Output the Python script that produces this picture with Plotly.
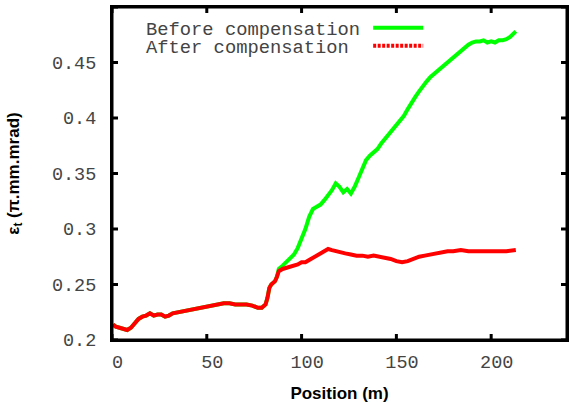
import plotly.graph_objects as go

# Position (m)
x_before = [0.5, 2, 4, 6, 8, 10, 12, 14, 16, 18, 20, 22, 24, 26, 28, 30, 32, 35, 38, 41, 44, 47, 50,
            53, 56, 59, 62, 65, 68, 71, 74, 77, 79, 81, 82, 83, 84, 85, 86, 87,
            88, 90, 92, 94, 96, 98, 100, 102, 104, 106, 108, 110, 112, 114, 116, 118, 120, 122, 124,
            126, 128, 130, 132, 134, 136, 138, 140, 142, 144, 146, 148, 150, 152, 154, 156, 158, 160,
            162, 164, 166, 168, 170, 172, 174, 176, 178, 180, 182, 184, 186, 188, 190, 192, 194, 196,
            198, 200, 202, 204, 206, 208, 210, 212, 213]
y_before = [0.214, 0.212, 0.211, 0.210, 0.209, 0.211, 0.215, 0.219, 0.221, 0.222, 0.224, 0.222, 0.223,
            0.223, 0.221, 0.222, 0.224, 0.225, 0.226, 0.227, 0.228, 0.229, 0.230,
            0.231, 0.232, 0.233, 0.233, 0.232, 0.232, 0.232, 0.231, 0.229, 0.229, 0.232, 0.238, 0.247,
            0.250, 0.251, 0.253, 0.257,
            0.264, 0.267, 0.270, 0.273, 0.277, 0.283, 0.291, 0.300, 0.311, 0.318, 0.320, 0.322, 0.326,
            0.330, 0.335, 0.341, 0.338, 0.333, 0.336, 0.332, 0.338, 0.346, 0.355, 0.362, 0.366, 0.369,
            0.372, 0.377, 0.381, 0.385, 0.389, 0.393, 0.397, 0.402, 0.408, 0.414, 0.419, 0.424, 0.429,
            0.433, 0.437, 0.440, 0.443, 0.446, 0.449, 0.452, 0.455, 0.458, 0.461, 0.464, 0.466, 0.468,
            0.469, 0.469, 0.470, 0.468, 0.469, 0.468, 0.470, 0.470, 0.471, 0.473, 0.476, 0.478]

x_after = [0.5, 2, 4, 6, 8, 10, 12, 14, 16, 18, 20, 22, 24, 26, 28, 30, 32, 35, 38, 41, 44, 47, 50,
           53, 56, 59, 62, 65, 68, 71, 74, 77, 79, 81, 82, 83, 84, 85, 86, 87,
           88, 90, 92, 94, 96, 98, 100, 102, 104, 106, 108, 110, 112, 114, 116, 118, 120, 123, 126,
           129, 132, 135, 138, 141, 144, 147, 150, 153, 156, 159, 162, 165, 168, 171, 174, 177, 180,
           184, 188, 192, 196, 200, 204, 208, 213]
y_after = [0.214, 0.212, 0.211, 0.210, 0.209, 0.211, 0.215, 0.219, 0.221, 0.222, 0.224, 0.222, 0.223,
           0.223, 0.221, 0.222, 0.224, 0.225, 0.226, 0.227, 0.228, 0.229, 0.230,
           0.231, 0.232, 0.233, 0.233, 0.232, 0.232, 0.232, 0.231, 0.229, 0.229, 0.232, 0.238, 0.247,
           0.250, 0.251, 0.253, 0.257,
           0.262, 0.264, 0.265, 0.266, 0.267, 0.268, 0.270, 0.270, 0.272, 0.274, 0.277, 0.279, 0.281,
           0.282, 0.281, 0.280, 0.279, 0.278, 0.277, 0.276, 0.276, 0.275, 0.276, 0.275, 0.274, 0.273,
           0.271, 0.270, 0.271, 0.273, 0.275, 0.276, 0.277, 0.278, 0.279, 0.280, 0.280,
           0.281, 0.280, 0.280, 0.280, 0.280, 0.280, 0.280, 0.281]

series_names = ["Before compensation", "After compensation"]
x_ticks = [0, 50, 100, 150, 200]
x_tick_text = [" 0", " 50", " 100", " 150", " 200"]
y_ticks = [0.2, 0.25, 0.3, 0.35, 0.4, 0.45, 0.5]
y_tick_text = ["0.2", "0.25", "0.3", "0.35", "0.4", "0.45", "0.5"]

GREEN = "#00ff00"
RED = "#ff0000"
MONO = "Liberation Mono, Courier New, monospace"
SANS = "Liberation Sans, Arial, sans-serif"
X_RANGE = [0, 240]
Y_RANGE = [0.2, 0.5]

fig = go.Figure()
fig.add_trace(go.Scatter(x=x_before, y=y_before, mode="lines", name=series_names[0],
                         line=dict(color=GREEN, width=4), showlegend=False))
fig.add_trace(go.Scatter(x=x_after, y=y_after, mode="lines", name=series_names[1],
                         line=dict(color=RED, width=4), showlegend=False))

# gnuplot-style key (text left, sample right)
key_rows = [(0.932, GREEN, "solid"), (0.878, RED, "3px,1.5px")]
for (yp, col, dash), name in zip(key_rows, series_names):
    fig.add_annotation(x=0.070, y=yp, xref="paper", yref="paper", xanchor="left", yanchor="middle",
                       text=name, showarrow=False, font=dict(family=MONO, size=18.8, color="#444"))
    fig.add_shape(type="line", xref="paper", yref="paper", x0=0.574, x1=0.684,
                  y0=yp + 0.006, y1=yp + 0.006, line=dict(color=col, width=4, dash=dash))

# border with mirrored inside tics, built from the tick lists
fig.add_shape(type="rect", xref="paper", yref="paper", x0=0, x1=1, y0=0, y1=1,
              line=dict(color="rgb(0,0,0)", width=3), fillcolor="rgba(0,0,0,0)", layer="above")
TL_Y = 6 / 333
TL_X = 6 / 455
for v in x_ticks:
    for y0, y1 in [(0, TL_Y), (1, 1 - TL_Y)]:
        fig.add_shape(type="line", xref="x", yref="paper", x0=v, x1=v, y0=y0, y1=y1,
                      line=dict(color="rgb(0,0,0)", width=3), layer="above")
for v in y_ticks:
    for x0, x1 in [(0, TL_X), (1, 1 - TL_X)]:
        fig.add_shape(type="line", xref="paper", yref="y", x0=x0, x1=x1, y0=v, y1=v,
                      line=dict(color="rgb(0,0,0)", width=3), layer="above")

axis_common = dict(showline=True, linecolor="rgb(0,0,0)", linewidth=2, mirror=True,
                   ticks="inside", ticklen=6, tickwidth=2, tickcolor="rgb(0,0,0)",
                   showgrid=False, zeroline=False, automargin=False,
                   tickfont=dict(family=MONO, size=18.5, color="#444"))

fig.update_xaxes(range=X_RANGE, tickvals=x_ticks, ticktext=x_tick_text, ticklabelstandoff=4,
                 title=dict(text="<b>Position (m)</b>", font=dict(family=SANS, size=17, color="black"),
                            standoff=14),
                 **axis_common)
fig.update_yaxes(range=Y_RANGE, tickvals=y_ticks, ticktext=y_tick_text, ticklabelstandoff=10,
                 title=dict(text="<b>ε<sub>t</sub> (π.mm.mrad)</b>",
                            font=dict(family=SANS, size=17, color="black"), standoff=28),
                 **axis_common)

fig.update_layout(width=569, height=403, plot_bgcolor="white", paper_bgcolor="white",
                  margin=dict(l=112, r=2, t=7, b=63, autoexpand=False), showlegend=False)

fig.write_html("out.html", config={"displayModeBar": False},
               post_script="document.body.style.margin='0';")
